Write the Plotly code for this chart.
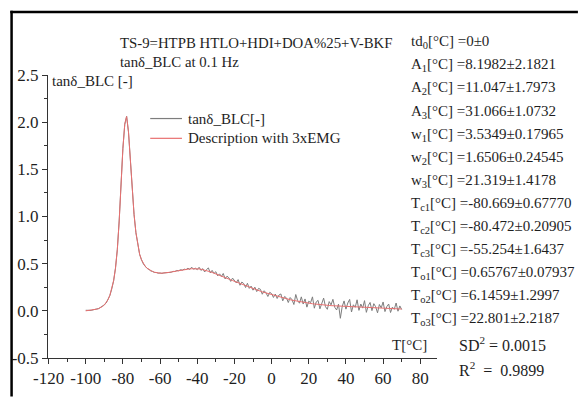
import plotly.graph_objects as go

# ---------------- data ----------------
temperature = list(range(-100, 71))  # °C, 1 K steps

tan_delta_measured = [
    0.006, 0.003, 0.006, 0.005, 0.011, 0.012, 0.020, 0.024, 0.036, 0.047,
    0.064, 0.083, 0.120, 0.163, 0.232, 0.318, 0.452, 0.648, 0.953, 1.348,
    1.724, 1.976, 2.062, 1.897, 1.583, 1.268, 1.022, 0.828, 0.692, 0.598,
    0.542, 0.498, 0.474, 0.450, 0.439, 0.423, 0.418, 0.407, 0.406, 0.399,
    0.401, 0.397, 0.402, 0.404, 0.403, 0.411, 0.409, 0.418, 0.417, 0.428,
    0.425, 0.436, 0.431, 0.442, 0.437, 0.452, 0.438, 0.463, 0.441, 0.452,
    0.436, 0.462, 0.428, 0.447, 0.412, 0.438, 0.455, 0.402, 0.429, 0.396,
    0.415, 0.371, 0.392, 0.364, 0.396, 0.338, 0.367, 0.351, 0.312, 0.347,
    0.322, 0.296, 0.331, 0.271, 0.305, 0.289, 0.247, 0.292, 0.238, 0.262,
    0.219, 0.251, 0.204, 0.238, 0.228, 0.176, 0.213, 0.191, 0.152, 0.196,
    0.183, 0.142, 0.178, 0.131, 0.168, 0.179, 0.106, 0.152, 0.137, 0.088,
    0.141, 0.118, 0.067, 0.173, 0.109, 0.081, 0.148, 0.072, 0.126, 0.039,
    0.102, 0.087, 0.148, 0.028, 0.094, 0.111, 0.021, 0.083, 0.135, 0.044,
    0.016, 0.098, 0.063, 0.122, 0.037, 0.009, 0.071, -0.079, 0.046, 0.105,
    0.018, 0.083, 0.121, -0.012, 0.064, 0.038, 0.117, 0.005, 0.072, 0.029,
    0.108, -0.016, 0.054, 0.089, 0.002, 0.076, 0.043, -0.021, 0.067, 0.031,
    0.094, -0.008, 0.045, 0.072, -0.018, 0.039, 0.016, 0.083, -0.004, 0.052,
    0.014,
]

tan_delta_fit = [
    0.000, 0.002, 0.004, 0.006, 0.009, 0.013, 0.018, 0.025, 0.034, 0.046,
    0.062, 0.085, 0.118, 0.165, 0.230, 0.320, 0.450, 0.650, 0.950, 1.350,
    1.720, 1.980, 2.060, 1.900, 1.580, 1.270, 1.020, 0.830, 0.690, 0.600,
    0.540, 0.500, 0.472, 0.452, 0.437, 0.425, 0.416, 0.409, 0.404, 0.401,
    0.399, 0.399, 0.400, 0.402, 0.405, 0.408, 0.412, 0.416, 0.420, 0.424,
    0.428, 0.432, 0.435, 0.438, 0.441, 0.443, 0.445, 0.446, 0.447, 0.447,
    0.446, 0.444, 0.441, 0.437, 0.432, 0.427, 0.421, 0.414, 0.407, 0.400,
    0.393, 0.385, 0.377, 0.369, 0.361, 0.353, 0.345, 0.337, 0.329, 0.321,
    0.313, 0.305, 0.297, 0.289, 0.281, 0.273, 0.265, 0.258, 0.250, 0.243,
    0.236, 0.229, 0.222, 0.215, 0.208, 0.201, 0.195, 0.189, 0.183, 0.177,
    0.171, 0.165, 0.159, 0.153, 0.148, 0.142, 0.137, 0.132, 0.127, 0.122,
    0.118, 0.113, 0.109, 0.105, 0.101, 0.097, 0.094, 0.090, 0.087, 0.084,
    0.081, 0.078, 0.075, 0.073, 0.070, 0.068, 0.066, 0.064, 0.062, 0.060,
    0.058, 0.057, 0.055, 0.054, 0.052, 0.051, 0.049, 0.048, 0.046, 0.045,
    0.044, 0.042, 0.041, 0.040, 0.039, 0.038, 0.037, 0.036, 0.035, 0.034,
    0.033, 0.032, 0.031, 0.030, 0.029, 0.029, 0.028, 0.027, 0.026, 0.026,
    0.025, 0.024, 0.024, 0.023, 0.022, 0.022, 0.021, 0.021, 0.020, 0.020,
    0.019,
]

series_names = ["tanδ_BLC[-]", "Description with 3xEMG"]
series_colors = ["#7d7d7d", "#e97070"]

x_tick_values = [-120, -100, -80, -60, -40, -20, 0, 20, 40, 60, 80]
x_tick_labels = ["-120", "-100", "-80", "-60", "-40", "-20", "0", "20", "40",
                 "60", "80"]
y_tick_values = [-0.5, 0.0, 0.5, 1.0, 1.5, 2.0, 2.5]
y_tick_labels = ["-0.5", "0.0", "0.5", "1.0", "1.5", "2.0", "2.5"]

fit_parameters = [
    "td<sub>0</sub>[°C] =0±0",
    "A<sub>1</sub>[°C] =8.1982±2.1821",
    "A<sub>2</sub>[°C] =11.047±1.7973",
    "A<sub>3</sub>[°C] =31.066±1.0732",
    "w<sub>1</sub>[°C] =3.5349±0.17965",
    "w<sub>2</sub>[°C] =1.6506±0.24545",
    "w<sub>3</sub>[°C] =21.319±1.4178",
    "T<sub>c1</sub>[°C] =-80.669±0.67770",
    "T<sub>c2</sub>[°C] =-80.472±0.20905",
    "T<sub>c3</sub>[°C] =-55.254±1.6437",
    "T<sub>o1</sub>[°C] =0.65767±0.07937",
    "T<sub>o2</sub>[°C] =6.1459±1.2997",
    "T<sub>o3</sub>[°C] =22.801±2.2187",
]

# ---------------- layout helpers ----------------
W, H = 579, 400
L, R, T, B = 45, 437, 75, 361  # plot area in pixels


def px(xp):
    return (xp - L) / (R - L)


def py(yp):
    return (B - yp) / (B - T)


FONT = "Liberation Serif, serif"
TXT = "#1e1e1e"

fig = go.Figure()
fig.add_trace(go.Scatter(x=temperature, y=tan_delta_measured, mode="lines",
                         name=series_names[0], showlegend=False,
                         hoverinfo="skip",
                         line=dict(color=series_colors[0], width=1)))
fig.add_trace(go.Scatter(x=temperature, y=tan_delta_fit, mode="lines",
                         name=series_names[1], showlegend=False,
                         hoverinfo="skip",
                         line=dict(color=series_colors[1], width=1)))

axis_common = dict(
    showline=True, linecolor="#333333", linewidth=1, mirror=False,
    ticks="outside", ticklen=5, tickcolor="#333333", tickwidth=1,
    showgrid=False, zeroline=False,
    tickfont=dict(family=FONT, size=17, color=TXT),
)

fig.update_xaxes(range=[-120.3, 89.0], tickvals=x_tick_values,
                 ticktext=x_tick_labels,
                 minor=dict(dtick=10, ticks="outside", ticklen=3,
                            tickcolor="#333333", showgrid=False),
                 **axis_common)
fig.update_yaxes(range=[-0.5, 2.5], tickvals=y_tick_values,
                 ticktext=y_tick_labels,
                 minor=dict(dtick=0.25, ticks="outside", ticklen=3,
                            tickcolor="#333333", showgrid=False),
                 **axis_common)

annotations = []


def text(xp, yp, s, size=15, anchor="left"):
    annotations.append(dict(x=px(xp), y=py(yp), xref="paper", yref="paper",
                            text=s, showarrow=False, xanchor=anchor,
                            yanchor="middle", borderpad=0,
                            font=dict(family=FONT, size=size, color=TXT)))


text(117, 43, "TS-9=HTPB HTLO+HDI+DOA%25+V-BKF", size=14.8)
text(117, 62, "tanδ_BLC at 0.1 Hz", size=14.8)
text(48, 81, "tanδ_BLC [-]", size=15)
text(428, 348, "T[°C]", anchor="right", size=15)

row_y = 42
for s in fit_parameters:
    text(410, row_y, s, size=15)
    row_y += 23.3
text(458, 347, "SD<sup>2</sup> = 0.0015", size=16)
text(458, 372, "R<sup>2</sup>  =  0.9899", size=16)

# legend (drawn as layout items)
shapes = []
legend_rows = [119, 139]
for name, color, ly in zip(series_names, series_colors, legend_rows):
    shapes.append(dict(type="line", xref="paper", yref="paper",
                       x0=px(148), x1=px(180), y0=py(ly), y1=py(ly),
                       line=dict(color=color, width=1.2)))
    text(185, ly, name, size=15)

# outer frame (top and left edges visible in the reference)
shapes.append(dict(type="line", xref="paper", yref="paper",
                   x0=px(8.3), x1=px(8.3), y0=py(10), y1=py(400),
                   line=dict(color="black", width=2.5)))
shapes.append(dict(type="line", xref="paper", yref="paper",
                   x0=px(7), x1=px(579), y0=py(11.3), y1=py(11.3),
                   line=dict(color="black", width=2.5)))

fig.update_layout(
    width=W, height=H,
    margin=dict(l=L, r=W - R, t=T, b=H - B, pad=0),
    paper_bgcolor="white", plot_bgcolor="white",
    font=dict(family=FONT, size=15, color=TXT),
    annotations=annotations,
    shapes=shapes,
    showlegend=False,
    hovermode=False,
)

fig.write_html("out.html",
               config={"displayModeBar": False, "staticPlot": True},
               post_script="document.body.style.margin='0';"
                           "document.body.style.overflow='hidden';")
